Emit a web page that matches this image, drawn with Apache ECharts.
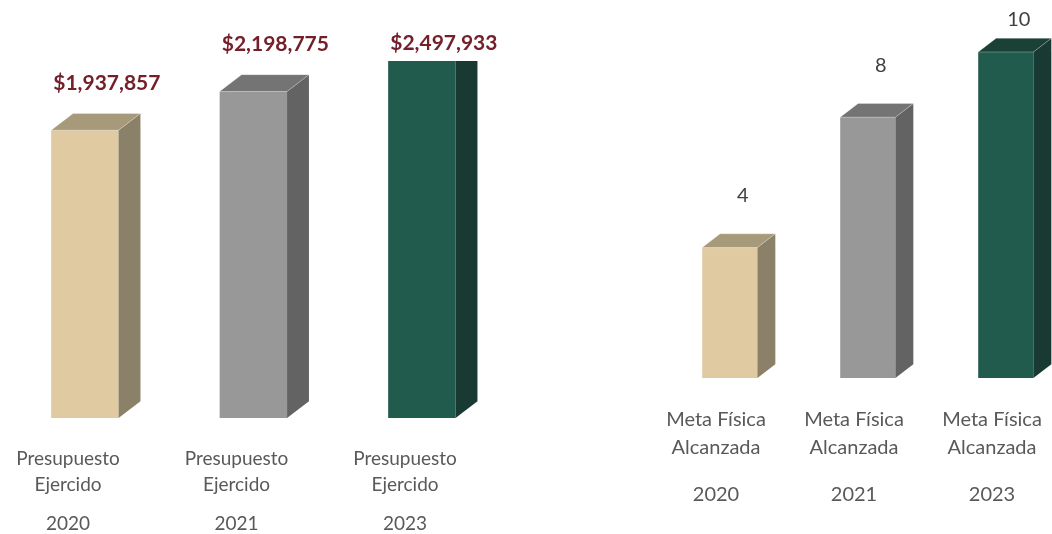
<!DOCTYPE html>
<html>
<head>
<meta charset="utf-8">
<script src="https://cdn.jsdelivr.net/npm/echarts@6/dist/echarts.min.js"></script>
<style>
html,body{margin:0;padding:0;background:#fff;}
#c{width:1052px;height:534px;}
</style>
</head>
<body>
<div id="c"></div>
<script>
const years = ['2020', '2021', '2023'];
const budgetLabel = ['Presupuesto', 'Ejercido'];
const goalLabel = ['Meta Física', 'Alcanzada'];
const budgetValues = [1937857, 2198775, 2497933];
const goalValues = [4, 8, 10];

const faceColors = [
  { front: '#dfcaa2', side: '#8b8068', top: '#a79a7b' },
  { front: '#989898', side: '#636363', top: '#747474' },
  { front: '#215b4d', side: '#183a33', top: '#1b4137' }
];

function fmtMoney(v) {
  return '$' + v.toLocaleString('en-US');
}

function makeRender(cfg) {
  return function (params, api) {
    const idx = api.value(0);
    const val = api.value(1);
    const base = api.coord([idx, 0]);
    const topP = api.coord([idx, val]);
    const sp = api.size([1, 0])[0];
    const w = sp * 0.4, dx = sp * 0.13, dy = sp * 0.1, off = sp * 0.1;
    const gridTop = params.coordSys.y;
    const cx = base[0] + off;
    const x0 = cx - w / 2, x1 = cx + w / 2;
    const yb = base[1];
    const yt = Math.max(topP[1], gridTop);
    const yBack = Math.max(topP[1] - dy, gridTop);
    const c = faceColors[idx];
    const children = [];
    children.push({
      type: 'polygon',
      shape: { points: [[x0, yb], [x1, yb], [x1, yt], [x0, yt]] },
      style: { fill: c.front }
    });
    children.push({
      type: 'polygon',
      shape: { points: [[x1, yb], [x1 + dx, yb - dy], [x1 + dx, yBack], [x1, yt]] },
      style: { fill: c.side }
    });
    if (topP[1] > gridTop) {
      children.push({
        type: 'polygon',
        shape: { points: [[x0, yt], [x1, yt], [x1 + dx, yBack], [x0 + dx, yBack]] },
        style: { fill: c.top, stroke: 'rgba(255,255,255,0.35)', lineWidth: 0.8 }
      });
    }
    children.push({
      type: 'text',
      style: {
        x: cx + cfg.labelOff,
        y: Math.max(yt - cfg.labelGap, gridTop - cfg.labelClamp),
        text: cfg.fmt(val),
        fill: cfg.labelColor,
        font: cfg.labelFont,
        align: 'center',
        verticalAlign: 'middle'
      }
    });
    return { type: 'group', children: children };
  };
}

const chart = echarts.init(document.getElementById('c'), null, { renderer: 'canvas' });
const FONT = 'Lato, "Open Sans", sans-serif';

chart.setOption({
  animation: false,
  backgroundColor: '#ffffff',
  grid: [
    { left: 68, right: 647, top: 61, bottom: 116 },
    { left: 716, right: 60, top: 19.4, bottom: 156 }
  ],
  xAxis: [
    {
      gridIndex: 0, type: 'category', data: years, boundaryGap: false,
      axisLine: { show: false }, axisTick: { show: false }, splitLine: { show: false },
      axisLabel: {
        interval: 0, margin: 28, color: '#595959', fontFamily: FONT,
        formatter: function (v) {
          return '{a|' + budgetLabel[0] + '}\n{a|' + budgetLabel[1] + '}\n{b|' + v + '}';
        },
        rich: {
          a: { fontSize: 19, lineHeight: 26, color: '#595959', fontFamily: FONT },
          b: { fontSize: 19, lineHeight: 52, color: '#595959', fontFamily: FONT }
        }
      }
    },
    {
      gridIndex: 1, type: 'category', data: years, boundaryGap: false,
      axisLine: { show: false }, axisTick: { show: false }, splitLine: { show: false },
      axisLabel: {
        interval: 0, margin: 28, color: '#595959', fontFamily: FONT,
        formatter: function (v) {
          return '{a|' + goalLabel[0] + '}\n{a|' + goalLabel[1] + '}\n{b|' + v + '}';
        },
        rich: {
          a: { fontSize: 20, lineHeight: 28, color: '#595959', fontFamily: FONT },
          b: { fontSize: 20, lineHeight: 66, color: '#595959', fontFamily: FONT }
        }
      }
    }
  ],
  yAxis: [
    { gridIndex: 0, type: 'value', min: 0, max: 2404040, show: false, splitLine: { show: false } },
    { gridIndex: 1, type: 'value', min: 0, max: 11, show: false, splitLine: { show: false } }
  ],
  series: [
    {
      type: 'custom', xAxisIndex: 0, yAxisIndex: 0, clip: false,
      renderItem: makeRender({
        labelOff: 22, labelGap: 47, labelClamp: 18,
        labelColor: '#74202a', labelFont: 'bold 21px ' + FONT, fmt: fmtMoney
      }),
      encode: { x: 0, y: 1 },
      data: budgetValues.map((v, i) => [i, v])
    },
    {
      type: 'custom', xAxisIndex: 1, yAxisIndex: 1, clip: false,
      renderItem: makeRender({
        labelOff: 13, labelGap: 52, labelClamp: 0,
        labelColor: '#404040', labelFont: '20px ' + FONT, fmt: function (v) { return String(v); }
      }),
      encode: { x: 0, y: 1 },
      data: goalValues.map((v, i) => [i, v])
    }
  ]
});
</script>
</body>
</html>
